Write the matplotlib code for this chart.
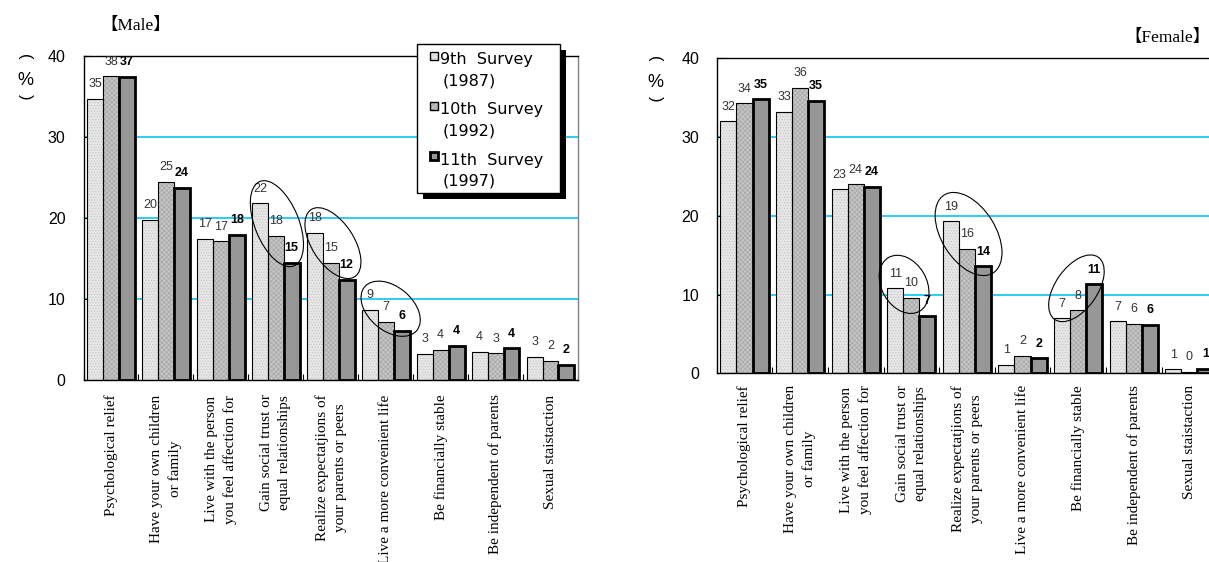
import matplotlib
matplotlib.use("Agg")
import matplotlib.pyplot as plt
from matplotlib.patches import Rectangle, Ellipse
from matplotlib import transforms
import numpy as np

# ---------------- data ----------------
categories = [
    "Psychological relief",
    "Have your own children\nor family",
    "Live with the person\nyou feel affection for",
    "Gain social trust or\nequal relationships",
    "Realize expectatjions of\nyour parents or peers",
    "Live a more convenient life",
    "Be financially stable",
    "Be independent of parents",
    "Sexual staistaction",
]
series_names = ["9th Survey", "10th Survey", "11th Survey"]
series_years = ["(1987)", "(1992)", "(1997)"]

male_9th = [34.7, 19.8, 17.4, 21.8, 18.2, 8.7, 3.2, 3.5, 2.9]
male_10th = [37.5, 24.5, 17.1, 17.8, 14.5, 7.2, 3.7, 3.3, 2.4]
male_11th = [37.4, 23.7, 17.9, 14.5, 12.4, 6.1, 4.2, 3.9, 1.85]
male_lab_9th = [35, 20, 17, 22, 18, 9, 3, 4, 3]
male_lab_10th = [38, 25, 17, 18, 15, 7, 4, 3, 2]
male_lab_11th = [37, 24, 18, 15, 12, 6, 4, 4, 2]

female_9th = [32.0, 33.2, 23.4, 10.8, 19.3, 1.1, 7.0, 6.6, 0.5]
female_10th = [34.3, 36.3, 24.0, 9.6, 15.8, 2.2, 8.0, 6.3, 0.17]
female_11th = [34.8, 34.6, 23.7, 7.3, 13.6, 1.9, 11.3, 6.2, 0.55]
female_lab_9th = [32, 33, 23, 11, 19, 1, 7, 7, 1]
female_lab_10th = [34, 36, 24, 10, 16, 2, 8, 6, 0]
female_lab_11th = [35, 35, 24, 7, 14, 2, 11, 6, 1]

y_ticks = [0, 10, 20, 30, 40]
grid_values = [10, 20, 30]

# highlight ellipses: (x centre, y centre) in data units, size in px, angle
male_ellipses = [(3.52, 19.3, 91, 44, -68), (4.54, 16.9, 80, 42, -57), (5.59, 8.8, 68, 44, -40)]
female_ellipses = [(3.37, 11.3, 62, 45, -60), (4.53, 17.7, 92, 54, -58), (6.47, 10.8, 76, 42, 55)]

# ---------------- style ----------------
W, H = 1209, 562
SERIF = ["Liberation Serif", "DejaVu Serif"]
SANS = ["Liberation Sans", "DejaVu Sans"]
NARROW = ["Liberation Sans Narrow", "Liberation Sans", "DejaVu Sans"]
CJK_SERIF = ["Liberation Serif", "Noto Sans CJK JP"]
GRID_C = "#1ec8f0"
plt.rcParams["hatch.linewidth"] = 0.45

styles = [
    dict(face="#e6e6e6", hatch="......", hatchcolor="#c4c4c4", lw=0.8, bold=False),
    dict(face="#c4c4c4", hatch="xxxxxxx", hatchcolor="#a6a6a6", lw=0.8, bold=False),
    dict(face="#979797", hatch=None, hatchcolor=None, lw=2.0, bold=True),
]
BAR_W = 0.29

fig = plt.figure(figsize=(W / 100, H / 100), dpi=100)


def px_axes(left, top, right, bottom):
    return fig.add_axes([left / W, 1 - bottom / H, (right - left) / W, (bottom - top) / H])


def draw_panel(ax, series, labels, ellipses, ytick_pad, xlab_pad):
    n = len(categories)
    x = np.arange(n) + 0.5
    ax.set_xlim(0, n)
    ax.set_ylim(0, 40)
    for g in grid_values:
        ax.axhline(g, color=GRID_C, lw=1.3, zorder=0.5)
    for k, (vals, labs, st) in enumerate(zip(series, labels, styles)):
        pos = x + (k - 1) * BAR_W
        if st["hatch"]:
            with plt.rc_context({"hatch.color": st["hatchcolor"]}):
                ax.bar(pos, vals, BAR_W, color=st["face"], hatch=st["hatch"], linewidth=0, zorder=2)
        else:
            ax.bar(pos, vals, BAR_W, color=st["face"], linewidth=0, zorder=2)
        ax.bar(pos, vals, BAR_W, facecolor="none", edgecolor="black", linewidth=st["lw"], zorder=3)
        for xp, v, lab in zip(pos, vals, labs):
            ax.annotate(str(lab), (xp, v), xytext=(0, 10.5), textcoords="offset points",
                        ha="center", va="center", fontsize=9, family=NARROW,
                        fontweight="bold" if st["bold"] else "normal",
                        color="black" if st["bold"] else "#333333", zorder=5)
    for cx, cy, w, h, ang in ellipses:
        tr = fig.dpi_scale_trans + transforms.ScaledTranslation(cx, cy, ax.transData)
        ax.add_patch(Ellipse((0, 0), w / 100, h / 100, angle=ang, transform=tr, fill=False,
                             ec="black", lw=0.8, zorder=6, clip_on=False))
    ax.set_yticks(y_ticks)
    ax.set_yticklabels([str(t) for t in y_ticks], family=SANS)
    ax.tick_params(axis="y", direction="in", length=4, width=0.8, pad=ytick_pad, labelsize=11.5)
    ax.set_xticks(np.arange(n + 1))
    ax.set_xticklabels([])
    ax.tick_params(axis="x", which="major", direction="in", length=4.5, width=0.8)
    ax.set_xticks(x, minor=True)
    ax.set_xticklabels(categories, minor=True, rotation=90, fontsize=11, family=SERIF,
                       linespacing=1.5, multialignment="center")
    ax.tick_params(axis="x", which="minor", length=0, pad=xlab_pad)
    for s in ax.spines.values():
        s.set_linewidth(1.0)
        s.set_color("black")


# ---------------- male panel ----------------
axm = px_axes(83.5, 56, 578, 380)
draw_panel(axm, [male_9th, male_10th, male_11th],
           [male_lab_9th, male_lab_10th, male_lab_11th], male_ellipses, 13, 10.5)
axm.spines["right"].set_color("#808080")

# legend (drawn inside male panel, in pixel-based axes fractions)
def ax_frac(ax, px, py, left, top, right, bottom):
    return (px - left) / (right - left), (bottom - py) / (bottom - top)

L, T, R, B = 83.5, 56, 578, 380
bx0, by1 = ax_frac(axm, 417, 44, L, T, R, B)
bx1, by0 = ax_frac(axm, 560, 193, L, T, R, B)
sdx = 5.5 / (R - L)
sdy = 5.5 / (B - T)
axm.add_patch(Rectangle((bx0 + sdx, by0 - sdy), bx1 - bx0, by1 - by0, transform=axm.transAxes,
                        facecolor="black", edgecolor="black", lw=0, zorder=9, clip_on=False))
axm.add_patch(Rectangle((bx0, by0), bx1 - bx0, by1 - by0, transform=axm.transAxes,
                        facecolor="white", edgecolor="black", lw=1.0, zorder=10, clip_on=False))
for k, (name, year, st) in enumerate(zip(series_names, series_years, styles)):
    sy = 55.7 + 50.2 * k
    qx, qy = ax_frac(axm, 429.5, sy + 4, L, T, R, B)
    qw = 8 / (R - L)
    qh = 8 / (B - T)
    if st["hatch"]:
        with plt.rc_context({"hatch.color": st["hatchcolor"]}):
            axm.add_patch(Rectangle((qx, qy), qw, qh, transform=axm.transAxes, facecolor=st["face"],
                                    hatch=st["hatch"], lw=0, zorder=11, clip_on=False))
    else:
        axm.add_patch(Rectangle((qx, qy), qw, qh, transform=axm.transAxes, facecolor=st["face"],
                                lw=0, zorder=11, clip_on=False))
    axm.add_patch(Rectangle((qx, qy), qw, qh, transform=axm.transAxes, facecolor="none",
                            edgecolor="black", lw=1.0 if k < 2 else 2.0, zorder=12, clip_on=False))
    tx1, ty1 = ax_frac(axm, 439.5, 59.5 + 50.3 * k, L, T, R, B)
    tx2, ty2 = ax_frac(axm, 443, 81 + 50.0 * k, L, T, R, B)
    axm.text(tx1, ty1, name.replace(" ", "  "), transform=axm.transAxes, ha="left", va="center",
             fontsize=11.5, family="DejaVu Sans", zorder=12, clip_on=False)
    axm.text(tx2, ty2, year, transform=axm.transAxes, ha="left", va="center",
             fontsize=11.5, family="DejaVu Sans", zorder=12, clip_on=False)

# ---------------- female panel ----------------
axf = px_axes(716.7, 58.5, 1217.1, 373.3)
draw_panel(axf, [female_9th, female_10th, female_11th],
           [female_lab_9th, female_lab_10th, female_lab_11th], female_ellipses, 12.5, 8.5)

# ---------------- titles and unit labels ----------------
fig.text(100 / W, 1 - 26 / H, "【Male】", ha="left", va="center", fontsize=12.5, family=CJK_SERIF)
fig.text(1211 / W, 1 - 38 / H, "【Female】", ha="right", va="center", fontsize=12.5, family=CJK_SERIF)

for xc, ytop in [(25, 56.5), (655, 58.5)]:
    fig.text(xc / W, 1 - ytop / H, "(", rotation=-90, ha="center", va="center", fontsize=12, family=SANS)
    fig.text(xc / W, 1 - (ytop + 24) / H, "%", ha="center", va="center", fontsize=13, family=SANS)
    fig.text(xc / W, 1 - (ytop + 40) / H, ")", rotation=-90, ha="center", va="center", fontsize=12, family=SANS)

fig.savefig("out.png", dpi=100)
